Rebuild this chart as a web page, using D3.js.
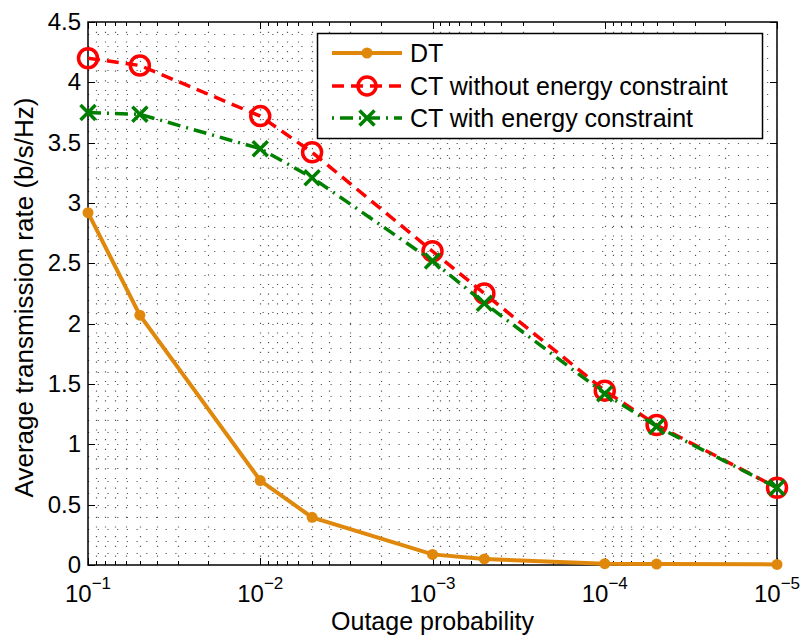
<!DOCTYPE html>
<html>
<head>
<meta charset="utf-8">
<script src="https://cdn.jsdelivr.net/npm/d3@7"></script>
<style>
  body { margin: 0; background: #fff; }
  text { font-family: "Liberation Sans", Arial, sans-serif; fill: #000; }
</style>
</head>
<body>
<div id="chart"></div>
<script>
// outage probability (x, log scale, shown reversed)
var outage = [1e-1, 5e-2, 1e-2, 5e-3, 1e-3, 5e-4, 1e-4, 5e-5, 1e-5];

var dtRate = [2.92, 2.07, 0.70, 0.395, 0.088, 0.05, 0.011, 0.008, 0.005];
var ctNoEnergy = [4.20, 4.14, 3.72, 3.42, 2.60, 2.25, 1.445, 1.16, 0.64];
var ctEnergy = [3.75, 3.735, 3.45, 3.21, 2.52, 2.17, 1.42, 1.148, 0.64];

var seriesNames = ['DT', 'CT without energy constraint', 'CT with energy constraint'];
var yTicks = [0, 0.5, 1, 1.5, 2, 2.5, 3, 3.5, 4, 4.5];
var xExponents = [-1, -2, -3, -4, -5];

d3main();

function d3main() {
  var W = 802, H = 637;
  var left = 88, right = 777, top = 22, bottom = 565;

  var svg = d3.select('#chart').append('svg')
    .attr('width', W)
    .attr('height', H);

  var x = d3.scaleLog().domain([1e-1, 1e-5]).range([left, right]);
  var y = d3.scaleLinear().domain([0, 4.5]).range([bottom, top]);

  // minor x positions
  var xMinor = [];
  xExponents.slice(1).forEach(function(e) {
    for (var k = 2; k <= 9; k++) xMinor.push(k * Math.pow(10, e));
  });
  var xMajor = xExponents.map(function(e) { return Math.pow(10, e); });
  var yMinor = d3.range(0, 45).map(function(i) { return i / 10; }).filter(function(v) { return Math.round(v * 10) % 5 !== 0; });

  var grid = svg.append('g')
    .attr('stroke', '#000')
    .attr('stroke-width', 1.2)
    .attr('stroke-dasharray', '1.2,8.5')
    .attr('opacity', 0.65);

  grid.selectAll('.vx').data(xMinor.concat(xMajor.slice(1, -1)))
    .enter().append('line')
    .attr('x1', function(d) { return Math.round(x(d)) + 0.5; })
    .attr('x2', function(d) { return Math.round(x(d)) + 0.5; })
    .attr('y1', top).attr('y2', bottom);

  grid.selectAll('.hy').data(yMinor.concat(yTicks.slice(1, -1)))
    .enter().append('line')
    .attr('y1', function(d) { return Math.round(y(d)) + 0.5; })
    .attr('y2', function(d) { return Math.round(y(d)) + 0.5; })
    .attr('x1', left).attr('x2', right);

  // axis ticks (inside, on all four sides)
  var ticks = svg.append('g').attr('stroke', '#000').attr('stroke-width', 1);
  xMajor.forEach(function(d) {
    var px = Math.round(x(d)) + 0.5;
    ticks.append('line').attr('x1', px).attr('x2', px).attr('y1', bottom).attr('y2', bottom - 7);
    ticks.append('line').attr('x1', px).attr('x2', px).attr('y1', top).attr('y2', top + 7);
  });
  xMinor.forEach(function(d) {
    var px = Math.round(x(d)) + 0.5;
    ticks.append('line').attr('x1', px).attr('x2', px).attr('y1', bottom).attr('y2', bottom - 4);
    ticks.append('line').attr('x1', px).attr('x2', px).attr('y1', top).attr('y2', top + 4);
  });
  yTicks.forEach(function(d) {
    var py = Math.round(y(d)) + 0.5;
    ticks.append('line').attr('x1', left).attr('x2', left + 7).attr('y1', py).attr('y2', py);
    ticks.append('line').attr('x1', right).attr('x2', right - 7).attr('y1', py).attr('y2', py);
  });

  // box
  svg.append('rect')
    .attr('x', left).attr('y', top)
    .attr('width', right - left).attr('height', bottom - top)
    .attr('fill', 'none').attr('stroke', '#000').attr('stroke-width', 1.5);

  // tick labels
  svg.append('g').selectAll('text').data(yTicks).enter().append('text')
    .attr('x', 81)
    .attr('y', function(d) { return y(d) + 8; })
    .attr('text-anchor', 'end')
    .attr('font-size', 24)
    .text(function(d) { return d; });

  var xl = svg.append('g').selectAll('text').data(xExponents).enter().append('text')
    .attr('x', function(d) { return x(Math.pow(10, d)); })
    .attr('y', 602)
    .attr('text-anchor', 'middle')
    .attr('font-size', 24);
  xl.append('tspan').text('10');
  xl.append('tspan').attr('font-size', 17).attr('dy', -13).text(function(d) { return '\u2212' + (-d); });

  svg.append('text')
    .attr('x', (left + right) / 2)
    .attr('y', 630)
    .attr('text-anchor', 'middle')
    .attr('font-size', 25)
    .text('Outage probability');

  svg.append('text')
    .attr('transform', 'translate(33,' + ((top + bottom) / 2 + 4) + ') rotate(-90)')
    .attr('text-anchor', 'middle')
    .attr('font-size', 26)
    .text('Average transmission rate (b/s/Hz)');

  // series
  var orange = '#E0880C', red = '#FF0000', green = '#008000';
  var line = d3.line()
    .x(function(d) { return x(d[0]); })
    .y(function(d) { return y(d[1]); });

  var plot = svg.append('g');
  var dtData = d3.zip(outage, dtRate);
  var noData = d3.zip(outage, ctNoEnergy);
  var enData = d3.zip(outage, ctEnergy);

  plot.append('path').datum(dtData).attr('d', line)
    .attr('fill', 'none').attr('stroke', orange).attr('stroke-width', 4);
  plot.selectAll('.dt').data(dtData).enter().append('circle')
    .attr('cx', function(d) { return x(d[0]); })
    .attr('cy', function(d) { return y(d[1]); })
    .attr('r', 5.5).attr('fill', orange);

  plot.append('path').datum(noData).attr('d', line)
    .attr('fill', 'none').attr('stroke', red).attr('stroke-width', 3.5)
    .attr('stroke-dasharray', '12,7');
  plot.selectAll('.no').data(noData).enter().append('circle')
    .attr('cx', function(d) { return x(d[0]); })
    .attr('cy', function(d) { return y(d[1]); })
    .attr('r', 9.5).attr('fill', 'none').attr('stroke', red).attr('stroke-width', 3.5);

  plot.append('path').datum(enData).attr('d', line)
    .attr('fill', 'none').attr('stroke', green).attr('stroke-width', 3.5)
    .attr('stroke-dasharray', '13,6,2,6');
  enData.forEach(function(d) {
    drawCross(plot, x(d[0]), y(d[1]), green);
  });

  // legend
  var lg = svg.append('g');
  lg.append('rect')
    .attr('x', 317.5).attr('y', 33.5).attr('width', 445).attr('height', 105)
    .attr('fill', '#fff').attr('stroke', '#000').attr('stroke-width', 1.5);
  var rowsY = [53, 86, 118];
  var lx1 = 332, lx2 = 402, lmid = 367;

  lg.append('line').attr('x1', lx1).attr('x2', lx2).attr('y1', rowsY[0]).attr('y2', rowsY[0])
    .attr('stroke', orange).attr('stroke-width', 4);
  lg.append('circle').attr('cx', lmid).attr('cy', rowsY[0]).attr('r', 5.5).attr('fill', orange);

  lg.append('line').attr('x1', lx1).attr('x2', lx2).attr('y1', rowsY[1]).attr('y2', rowsY[1])
    .attr('stroke', red).attr('stroke-width', 3.5).attr('stroke-dasharray', '12,7');
  lg.append('circle').attr('cx', lmid).attr('cy', rowsY[1]).attr('r', 9)
    .attr('fill', 'none').attr('stroke', red).attr('stroke-width', 3.5);

  lg.append('line').attr('x1', lx1).attr('x2', lx2).attr('y1', rowsY[2]).attr('y2', rowsY[2])
    .attr('stroke', green).attr('stroke-width', 3.5).attr('stroke-dasharray', '2,6,13,6');
  drawCross(lg, lmid, rowsY[2], green);

  lg.selectAll('text.lab').data(seriesNames).enter().append('text')
    .attr('x', 410)
    .attr('y', function(d, i) { return rowsY[i] + 9; })
    .attr('font-size', 25)
    .text(function(d) { return d; });
}

function drawCross(g, cx, cy, color) {
  var s = 7.5;
  g.append('path')
    .attr('d', 'M' + (cx - s) + ',' + (cy - s) + 'L' + (cx + s) + ',' + (cy + s) +
               'M' + (cx - s) + ',' + (cy + s) + 'L' + (cx + s) + ',' + (cy - s))
    .attr('stroke', color).attr('stroke-width', 3.5).attr('fill', 'none');
}
</script>
</body>
</html>
